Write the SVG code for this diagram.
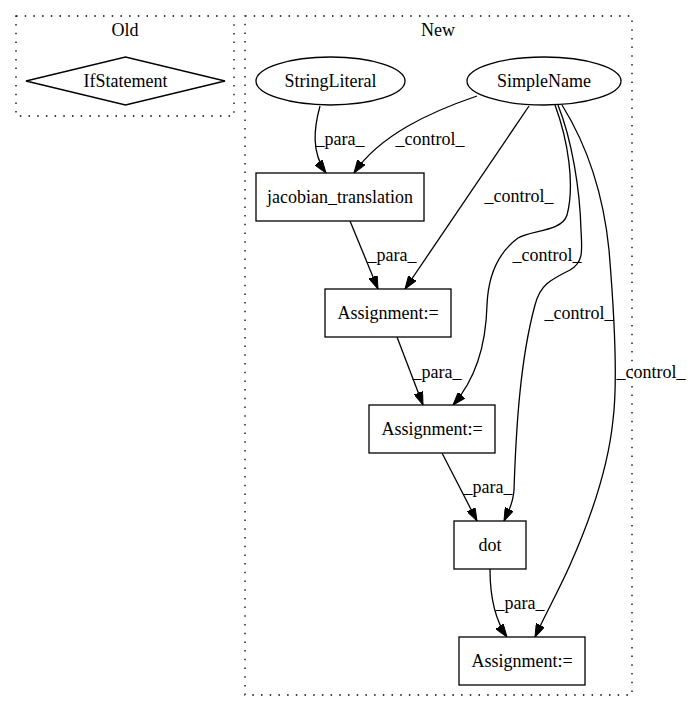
<svg xmlns="http://www.w3.org/2000/svg" width="691" height="712" viewBox="0 0 691 712">
<style>
text{font-family:"Liberation Serif","Times New Roman",serif;font-size:18px;fill:#000;text-anchor:middle}
.cl{fill:none;stroke:#000;stroke-width:1.3;stroke-dasharray:1.5,7.2}
.nd{fill:#fff;stroke:#000;stroke-width:1.3}
.ed{fill:none;stroke:#000;stroke-width:1.3;marker-end:url(#ah)}
</style>
<defs>
<marker id="ah" viewBox="0 0 13 9" refX="13" refY="4.5" markerWidth="13" markerHeight="9" markerUnits="userSpaceOnUse" orient="auto">
<path d="M0,0 L13,4.5 L0,9 z" fill="#000" stroke="#000" stroke-width="1"/>
</marker>
</defs>
<rect width="691" height="712" fill="#fff"/>
<g id="cluster_old">
<rect class="cl" x="16" y="16" width="218" height="100"/>
<text x="125" y="36">Old</text>
</g>
<g id="cluster_new">
<rect class="cl" x="245" y="16" width="387" height="679"/>
<text x="438" y="36">New</text>
</g>
<g id="connectors">
<path class="ed" d="M320,106 C314,128 311,152 326,173"/>
<text x="340" y="145">_para_</text>
<path class="ed" d="M477,96 C430,112 380,135 354,173"/>
<text x="430" y="145">_control_</text>
<path class="ed" d="M529,106 L405,289"/>
<text x="519" y="202">_control_</text>
<path class="ed" d="M555,105 C568,140 575,185 567,215 C562,232 530,230 518,238 C495,255 488,280 487,305 C486,345 475,380 453,405"/>
<text x="547" y="261">_control_</text>
<path class="ed" d="M558,105 C572,140 580,190 581,230 C582,250 584,262 570,270 C550,280 540,285 535,305 C520,360 516,430 514,490 C513,505 508,512 504,521"/>
<text x="579" y="319">_control_</text>
<path class="ed" d="M562,105 C590,150 604,200 609,250 C614,310 618,380 613,420 C608,470 590,520 570,565 C558,592 545,615 535,637"/>
<text x="651" y="378">_control_</text>
<path class="ed" d="M350,221 L378,289"/>
<text x="392" y="261">_para_</text>
<path class="ed" d="M397,337 L423,405"/>
<text x="437" y="378">_para_</text>
<path class="ed" d="M442,453 L477,521"/>
<text x="488" y="493">_para_</text>
<path class="ed" d="M490,569 C490,595 495,620 507,637"/>
<text x="520" y="609">_para_</text>
</g>
<g id="IfStatement">
<polygon class="nd" points="26,81 125.5,57 225,81 125.5,105"/>
<text x="125.5" y="87">IfStatement</text>
</g>
<g id="StringLiteral">
<ellipse class="nd" cx="330.5" cy="81" rx="74.5" ry="24"/>
<text x="330.5" y="87">StringLiteral</text>
</g>
<g id="SimpleName">
<ellipse class="nd" cx="544" cy="81" rx="77" ry="24"/>
<text x="544" y="87">SimpleName</text>
</g>
<g id="jacobian_translation">
<rect class="nd" x="256" y="173" width="168" height="48"/>
<text x="340" y="203">jacobian_translation</text>
</g>
<g id="Assignment1">
<rect class="nd" x="325" y="289" width="126" height="48"/>
<text x="388" y="319">Assignment:=</text>
</g>
<g id="Assignment2">
<rect class="nd" x="369" y="405" width="126" height="48"/>
<text x="432" y="435">Assignment:=</text>
</g>
<g id="dot">
<rect class="nd" x="454" y="521" width="72" height="48"/>
<text x="490" y="551">dot</text>
</g>
<g id="Assignment3">
<rect class="nd" x="459" y="637" width="126" height="48"/>
<text x="522" y="667">Assignment:=</text>
</g>
</svg>
